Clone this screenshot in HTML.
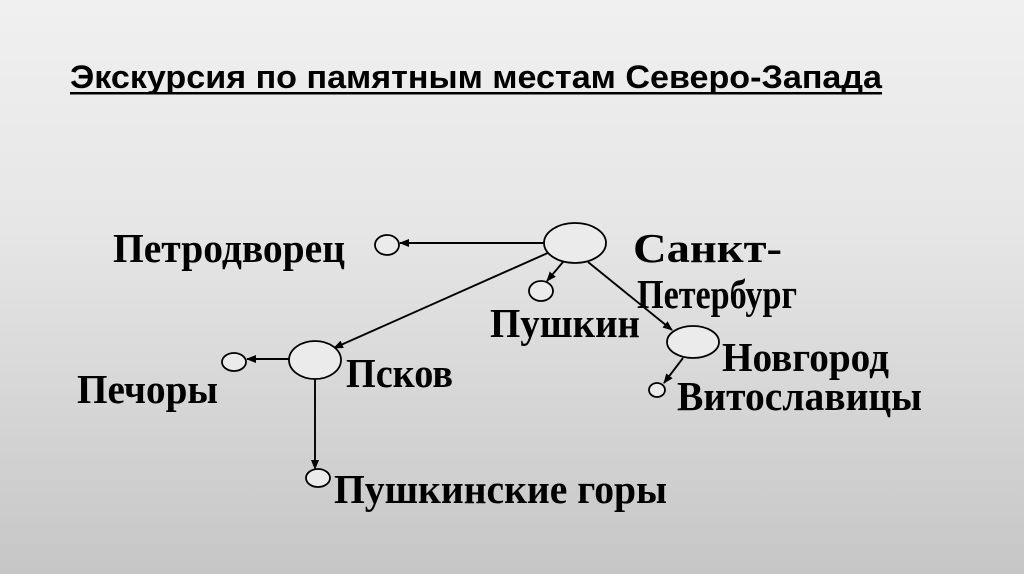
<!DOCTYPE html>
<html><head><meta charset="utf-8"><style>
html,body{margin:0;padding:0;}
body{width:1024px;height:574px;overflow:hidden;background:linear-gradient(#f0f0f0,#e6e6e6 40%,#c6c6c6);}
svg{display:block;}
</style></head><body>
<svg width="1024" height="574" xmlns="http://www.w3.org/2000/svg">
<defs><marker id="a" markerWidth="10" markerHeight="8" refX="9" refY="4" orient="auto" markerUnits="userSpaceOnUse"><path d="M0,0 L10,4 L0,8 z" fill="#000"/></marker></defs>
<text x="70" y="88" font-family="Liberation Sans, sans-serif" font-weight="bold" font-size="32" textLength="812" lengthAdjust="spacingAndGlyphs">Экскурсия по памятным местам Северо-Запада</text>
<rect x="70" y="92" width="812" height="2.5" fill="#000"/>
<g stroke="#000" stroke-width="1.9" fill="none">
<line x1="545" y1="243" x2="400" y2="243" marker-end="url(#a)"/>
<line x1="563" y1="262" x2="547" y2="281" marker-end="url(#a)"/>
<line x1="550" y1="252" x2="334" y2="348" marker-end="url(#a)"/>
<line x1="588" y1="262" x2="672" y2="330" marker-end="url(#a)"/>
<line x1="683" y1="358" x2="664" y2="383" marker-end="url(#a)"/>
<line x1="289" y1="359" x2="247" y2="359" marker-end="url(#a)"/>
<line x1="315" y1="379" x2="315" y2="469" marker-end="url(#a)"/>
</g>
<g stroke="#000" stroke-width="1.8" fill="#ebebeb">
<ellipse cx="575" cy="243" rx="31" ry="20"/>
<ellipse cx="387" cy="245" rx="12" ry="10"/>
<ellipse cx="541" cy="291" rx="12" ry="10"/>
<ellipse cx="693" cy="342" rx="26" ry="16"/>
<ellipse cx="657" cy="390" rx="8" ry="7"/>
<ellipse cx="315" cy="360" rx="26" ry="19"/>
<ellipse cx="234" cy="362" rx="12" ry="9"/>
<ellipse cx="318" cy="478" rx="12" ry="9"/>
</g>
<g font-family="Liberation Serif, serif" font-weight="bold" font-size="41">
<text x="113" y="262" textLength="232" lengthAdjust="spacingAndGlyphs">Петродворец</text>
<text x="633" y="262" textLength="149" lengthAdjust="spacingAndGlyphs">Санкт-</text>
<text x="637" y="308" textLength="160" lengthAdjust="spacingAndGlyphs">Петербург</text>
<text x="490" y="337" textLength="150" lengthAdjust="spacingAndGlyphs">Пушкин</text>
<text x="346" y="387" textLength="107" lengthAdjust="spacingAndGlyphs">Псков</text>
<text x="77" y="403" textLength="141" lengthAdjust="spacingAndGlyphs">Печоры</text>
<text x="722" y="371" textLength="167" lengthAdjust="spacingAndGlyphs">Новгород</text>
<text x="677" y="410" textLength="245" lengthAdjust="spacingAndGlyphs">Витославицы</text>
<text x="334" y="503" textLength="333" lengthAdjust="spacingAndGlyphs">Пушкинские горы</text>
</g>
</svg>
</body></html>
